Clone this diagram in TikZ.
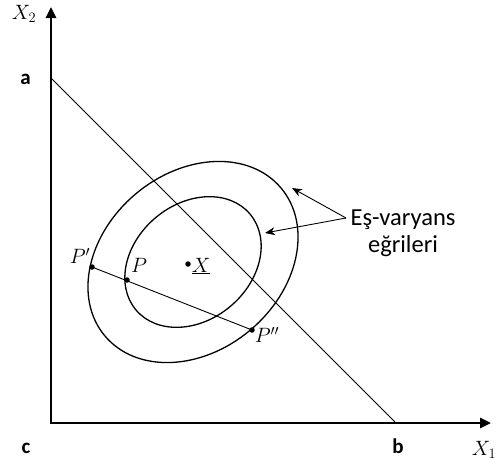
\documentclass[tikz,border=0pt]{standalone}
\usepackage{fontspec}
\setsansfont{Carlito}
\usetikzlibrary{arrows.meta}
\begin{document}
\begin{tikzpicture}[x=1pt,y=-1pt,
  axis/.style={line width=2.6pt, line join=miter, {Triangle[length=11pt,width=10pt]}-{Triangle[length=11pt,width=10pt]}},
  curve/.style={line width=1.3pt},
  thinline/.style={line width=0.9pt},
  dotpt/.style={circle, fill, inner sep=0pt, minimum size=5.5pt},
  mlab/.style={font=\fontsize{20.5}{24}\selectfont, inner sep=0pt},
  blab/.style={font=\sffamily\bfseries\fontsize{21}{24}\selectfont, anchor=base, inner sep=0pt},
  txt/.style={font=\sffamily\fontsize{24.5}{27}\selectfont, align=center, inner sep=0pt},
  ptr/.style={line width=0.9pt, -{Stealth[length=10pt,width=8pt]}}
]
\useasboundingbox (0,0) rectangle (498,466);
% axes
\coordinate (O) at (51,423);
\coordinate (Xend) at (491,423);
\coordinate (Yend) at (51,7);
\draw[axis] (Yend) -- (O) -- (Xend);
% budget line
\coordinate (A) at (51,78);
\coordinate (B) at (396,423);
\draw[thinline] (A) -- (B);
% iso-variance curves
\coordinate (C) at (193,262);
\draw[curve, rotate around={40:(C)}] (C) ellipse [x radius=115pt, y radius=89pt];
\draw[curve, rotate around={40:(C)}] (C) ellipse [x radius=74.5pt, y radius=58pt];
% points
\node[dotpt] (Pp) at (92,267) {};
\node[dotpt] (P) at (127,280) {};
\node[dotpt] (Ppp) at (252,330) {};
\node[dotpt] (X) at (188,264) {};
\draw[thinline] (Pp.center) -- (Ppp.center);
% labels
\node[mlab] (lPp) at (80,256) {$P'$};
\node[mlab] (lP) at (139,265) {$P$};
\node[mlab] (lX) at (201,266) {$\underline{X}$};
\node[mlab] (lPpp) at (267,335) {$P''$};
\node[mlab] (lX1) at (484,450) {$X_1$};
\node[mlab] (lX2) at (24,14) {$X_2$};
\node[blab] (la) at (25.5,84) {a};
\node[blab] (lb) at (398,453) {b};
\node[blab] (lc) at (26,453) {c};
% annotation
\node[txt] (T) at (403,233) {Eş-varyans\\eğrileri};
\coordinate (S) at (346,218);
\coordinate (T1) at (292,188);
\coordinate (T2) at (265,233);
\draw[ptr] (S) -- (T1);
\draw[ptr] (S) -- (T2);
\end{tikzpicture}
\end{document}
